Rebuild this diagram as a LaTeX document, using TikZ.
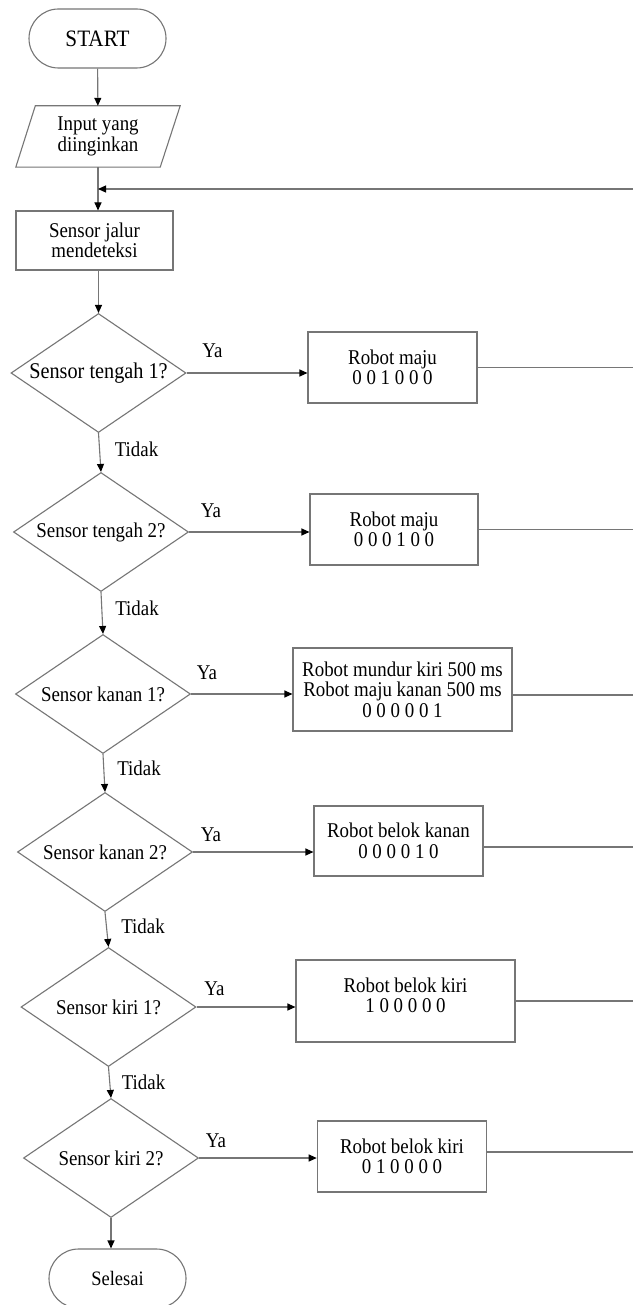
\documentclass[tikz,border=0pt]{standalone}
\usepackage{fontspec}
\setmainfont{Liberation Serif}[FakeStretch=0.9]
\usetikzlibrary{arrows.meta,shapes.geometric,calc}
\definecolor{edgegray}{RGB}{118,118,118}
\begin{document}
\begin{tikzpicture}[x=1pt,y=-1pt,
  ln/.style={draw=edgegray,line width=1.1pt},
  arr/.style={ln,-{Triangle[length=8pt,width=7pt,color=black]}},
  txt/.style={font=\fontsize{21pt}{20.5pt}\selectfont,text=black,align=center},
  term/.style={txt,ln,rectangle,rounded corners=29.5pt,minimum width=137pt,minimum height=59pt,inner sep=0pt},
  proc/.style={txt,ln,rectangle,inner sep=0pt},
  dec/.style={txt,ln,diamond,aspect=1.47,minimum width=175pt,minimum height=119pt,inner sep=0pt},
  lab/.style={font=\fontsize{21pt}{20.5pt}\selectfont,text=black,inner sep=0pt}
]
\fill[white] (0,0) rectangle (632,1305);
\useasboundingbox (0,0) rectangle (632,1305);

% start, input and line sensing
\node[term,font=\fontsize{23.5pt}{24pt}\selectfont] (start) at (97.5,38.5) {START};
\node[txt,minimum width=144pt,minimum height=61pt,inner sep=0pt] (in) at (98,136.5) {Input yang\\diinginkan};
\draw[ln] ([xshift=9.5pt]in.north west) -- ([xshift=10pt]in.north east)
  -- ([xshift=-10pt]in.south east) -- ([xshift=-10pt]in.south west) -- cycle;
\node[proc,minimum width=157pt,minimum height=59pt] (s) at (94.5,240.5) {Sensor jalur\\mendeteksi};

% decisions
\node[dec,font=\fontsize{22.5pt}{22pt}\selectfont] (d1) at (98.5,373) {Sensor tengah 1?};
\node[dec] (d2) at (101,532) {Sensor tengah 2?};
\node[dec] (d3) at (103,694) {Sensor kanan 1?};
\node[dec] (d4) at (105,852) {Sensor kanan 2?};
\node[dec] (d5) at (108.5,1007) {Sensor kiri 1?};
\node[dec] (d6) at (111,1158) {Sensor kiri 2?};

% actions
\node[proc,minimum width=169pt,minimum height=71pt] (b1) at (392.5,367.5) {Robot maju\\0 0 1 0 0 0};
\node[proc,minimum width=168pt,minimum height=71pt] (b2) at (394,529.5) {Robot maju\\0 0 0 1 0 0};
\node[proc,minimum width=219pt,minimum height=83pt] (b3) at (402.5,689.5) {Robot mundur kiri 500 ms\\Robot maju kanan 500 ms\\0 0 0 0 0 1};
\node[proc,minimum width=169pt,minimum height=70pt] (b4) at (398.5,841) {Robot belok kanan\\0 0 0 0 1 0};
\node[proc,minimum width=219pt,minimum height=82pt] (b5) at (405.5,1001) {Robot belok kiri\\1 0 0 0 0 0\\[-8.5pt]\mbox{}};
\node[proc,minimum width=169.5pt,minimum height=71pt] (b6) at (402,1156.5) {Robot belok kiri\\0 1 0 0 0 0};

\node[term,font=\fontsize{20.5pt}{21pt}\selectfont] (end) at (117.5,1278.5) {Selesai};

% return path and right margin
\coordinate (ret) at (640,189);
\coordinate (rim) at (640,0);

% main flow
\draw[arr] (start) -- (in);
\draw[arr] (in.south) -- (in.south |- s.north);
\draw[arr] (ret) -- (ret -| in.south);
\draw[arr] (s.south -| d1.north) -- (d1.north);
\draw[arr] (d1.south) -- (d2.north);
\draw[arr] (d2.south) -- (d3.north);
\draw[arr] (d3.south) -- (d4.north);
\draw[arr] (d4.south) -- (d5.north);
\draw[arr] (d5.south) -- (d6.north);
\draw[arr] (d6.south) -- (d6.south |- end.north);

% yes branches
\draw[arr] (d1.east) -- (d1.east -| b1.west);
\draw[arr] (d2.east) -- (d2.east -| b2.west);
\draw[arr] (d3.east) -- (d3.east -| b3.west);
\draw[arr] (d4.east) -- (d4.east -| b4.west);
\draw[arr] (d5.east) -- (d5.east -| b5.west);
\draw[arr] (d6.east) -- (d6.east -| b6.west);

% lines back to the loop
\draw[ln] (b1.east) -- (b1.east -| rim);
\draw[ln] (b2.east) -- (b2.east -| rim);
\draw[ln] ([yshift=-5.5pt]b3.east) -- ([yshift=-5.5pt]b3.east -| rim);
\draw[ln] ([yshift=-6pt]b4.east) -- ([yshift=-6pt]b4.east -| rim);
\draw[ln] (b5.east) -- (b5.east -| rim);
\draw[ln] ([yshift=4.5pt]b6.east) -- ([yshift=4.5pt]b6.east -| rim);

% branch labels
\node[lab] (y1) at ($(d1.east)+(26,-22)$) {Ya};
\node[lab] (y2) at ($(d2.east)+(22,-21)$) {Ya};
\node[lab] (y3) at ($(d3.east)+(16,-21)$) {Ya};
\node[lab] (y4) at ($(d4.east)+(18,-17)$) {Ya};
\node[lab] (y5) at ($(d5.east)+(18,-18)$) {Ya};
\node[lab] (y6) at ($(d6.east)+(17,-17)$) {Ya};
\node[lab] (t1) at ($(d1.south)+(38,16)$) {Tidak};
\node[lab] (t2) at ($(d2.south)+(36,16)$) {Tidak};
\node[lab] (t3) at ($(d3.south)+(36,14)$) {Tidak};
\node[lab] (t4) at ($(d4.south)+(38,14)$) {Tidak};
\node[lab] (t5) at ($(d5.south)+(35,15)$) {Tidak};
\end{tikzpicture}
\end{document}
